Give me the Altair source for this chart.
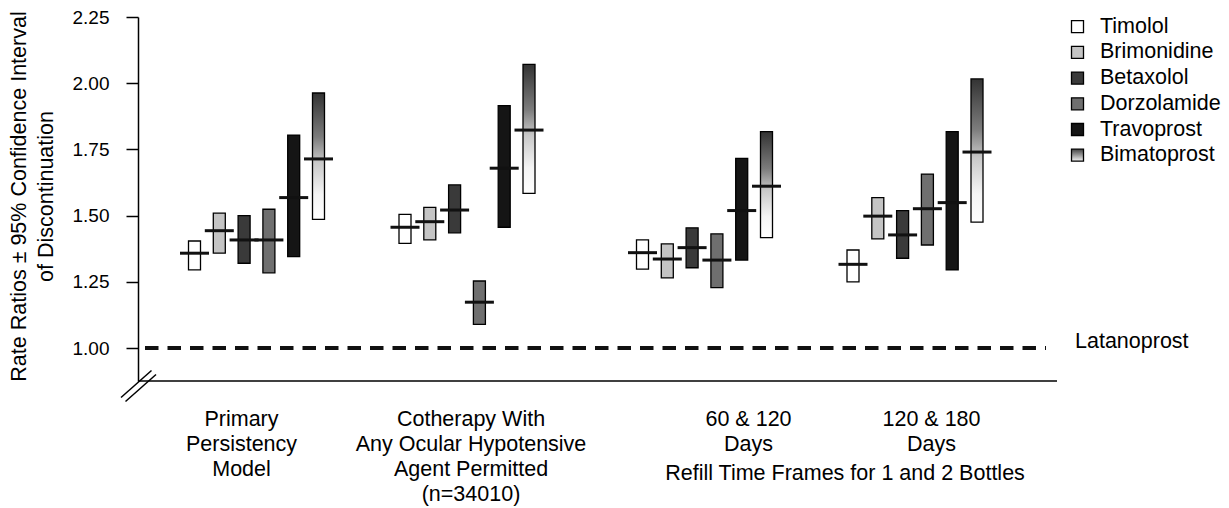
import altair as alt
import pandas as pd

# ---------------- data ----------------
drugs = ["Timolol", "Brimonidine", "Betaxolol", "Dorzolamide", "Travoprost", "Bimatoprost"]
groups = [
    "Primary\nPersistency\nModel",
    "Cotherapy With\nAny Ocular Hypotensive\nAgent Permitted\n(n=34010)",
    "60 & 120\nDays",
    "120 & 180\nDays",
]
refill_label = "Refill Time Frames for 1 and 2 Bottles"
ref_label = "Latanoprost"
ref_value = 1.0

# rate ratio (point estimate) per group, in drug order
rr_primary = [1.358, 1.443, 1.408, 1.408, 1.568, 1.714]
rr_cotherapy = [1.456, 1.477, 1.521, 1.173, 1.679, 1.823]
rr_60_120 = [1.360, 1.336, 1.379, 1.332, 1.519, 1.611]
rr_120_180 = [1.316, 1.498, 1.427, 1.526, 1.549, 1.740]

# lower 95% CI
lo_primary = [1.295, 1.358, 1.320, 1.284, 1.345, 1.486]
lo_cotherapy = [1.395, 1.408, 1.435, 1.089, 1.456, 1.584]
lo_60_120 = [1.298, 1.265, 1.303, 1.228, 1.332, 1.417]
lo_120_180 = [1.250, 1.412, 1.339, 1.389, 1.295, 1.475]

# upper 95% CI
hi_primary = [1.404, 1.509, 1.500, 1.524, 1.804, 1.963]
hi_cotherapy = [1.505, 1.531, 1.616, 1.253, 1.915, 2.071]
hi_60_120 = [1.408, 1.393, 1.454, 1.431, 1.716, 1.817]
hi_120_180 = [1.370, 1.568, 1.519, 1.657, 1.817, 2.016]

y_ticks = [1.00, 1.25, 1.50, 1.75, 2.00, 2.25]
y_title = ["Rate Ratios \u00b1 95% Confidence Interval", "of Discontinuation"]
fills = ["#ffffff", "#c4c4c4", "#3a3a3a", "#6f6f6f", "#151515", "#888888"]

# ---------------- layout ----------------
FONT = "Liberation Sans"
W, H = 1091, 364
GROUP_PX = 210.5          # pixels between group centres
FIRST_PX = 118.5          # first group centre from left of plot
SECTION_GAP_PX = 27.0     # extra gap before the refill-time-frame groups
U = 1.0 / GROUP_PX        # one pixel in group units
DRUG_STEP = 24.8 * U
BAR_HALF = 6.0 * U
MED_HALF = 14.5 * U
LABEL_SHIFT = [-15, 4, 44, 16.5]   # px shift of each category label

lows = [lo_primary, lo_cotherapy, lo_60_120, lo_120_180]
mids = [rr_primary, rr_cotherapy, rr_60_120, rr_120_180]
highs = [hi_primary, hi_cotherapy, hi_60_120, hi_120_180]


def group_pos(gi):
    return gi + (SECTION_GAP_PX * U if gi >= 2 else 0.0)


rows = []
for gi in range(len(groups)):
    for k, d in enumerate(drugs):
        pos = group_pos(gi) + (k - 2.5) * DRUG_STEP
        rows.append(dict(group=gi, drug=d, low=lows[gi][k], rr=mids[gi][k], high=highs[gi][k],
                         x0=pos - BAR_HALF, x1=pos + BAR_HALF,
                         m0=pos - MED_HALF, m1=pos + MED_HALF))
df = pd.DataFrame(rows)

lab_df = pd.DataFrame({"label": groups,
                       "lx": [group_pos(gi) + LABEL_SHIFT[gi] * U for gi in range(len(groups))]})

xs = alt.Scale(domain=[-FIRST_PX * U, (W - FIRST_PX) * U], nice=False, zero=False)
ys = alt.Scale(domain=[2.25 - H / 264.8, 2.25], nice=False, zero=False)
fill_scale = alt.Scale(domain=drugs, range=fills)

grad = alt.LinearGradient(
    gradient="linear", x1=0, y1=0, x2=0, y2=1,
    stops=[alt.GradientStop(offset=0, color="#333333"),
           alt.GradientStop(offset=0.35, color="#7c7c7c"),
           alt.GradientStop(offset=0.55, color="#c8c8c8"),
           alt.GradientStop(offset=0.8, color="#f4f4f4"),
           alt.GradientStop(offset=1, color="#ffffff")])
grad_leg = alt.LinearGradient(
    gradient="linear", x1=0, y1=0, x2=0, y2=1,
    stops=[alt.GradientStop(offset=0, color="#444444"),
           alt.GradientStop(offset=0.5, color="#9a9a9a"),
           alt.GradientStop(offset=1, color="#f4f4f4")])

yaxis = alt.Axis(values=y_ticks, format=".2f", grid=False, title=y_title)


def Y(field):
    return alt.Y(field, scale=ys, axis=yaxis)


base = alt.Chart(df)

bars = base.transform_filter(alt.datum.drug != "Bimatoprost").mark_rect(
    stroke="black", strokeWidth=1.3).encode(
    x=alt.X("x0:Q", scale=xs, axis=None), x2="x1:Q",
    y=Y("low:Q"), y2="high:Q",
    fill=alt.Fill("drug:N", scale=fill_scale, legend=None))

gbars = base.transform_filter(alt.datum.drug == "Bimatoprost").mark_rect(
    fill=grad, stroke="black", strokeWidth=1.3).encode(
    x=alt.X("x0:Q", scale=xs, axis=None), x2="x1:Q",
    y=Y("low:Q"), y2="high:Q")

medians = base.mark_rule(strokeWidth=3, color="#111111").encode(
    x=alt.X("m0:Q", scale=xs, axis=None), x2="m1:Q",
    y=Y("rr:Q"))

ref_df = pd.DataFrame({"v": [ref_value], "t": [ref_label]})
ref = alt.Chart(ref_df).mark_rule(strokeDash=[13.5, 9], strokeWidth=4, color="#111111").encode(
    y=Y("v:Q"), x=alt.value(7), x2=alt.value(908))
ref_txt = alt.Chart(ref_df).mark_text(align="left", baseline="alphabetic", fontSize=21.5,
                                      font=FONT, color="black").encode(
    y=Y("v:Q"), x=alt.value(937), text="t:N")

xaxis_line = alt.Chart(ref_df).mark_rule(strokeWidth=1.5, color="black").encode(
    x=alt.value(0), x2=alt.value(919), y=alt.value(H))
brk1 = alt.Chart(ref_df).mark_rule(strokeWidth=1.5, color="black").encode(
    x=alt.value(-17), x2=alt.value(13.5), y=alt.value(380.5), y2=alt.value(353.5))
brk2 = alt.Chart(ref_df).mark_rule(strokeWidth=1.5, color="black").encode(
    x=alt.value(-12.5), x2=alt.value(18), y=alt.value(384.5), y2=alt.value(357.5))

cat_txt = alt.Chart(lab_df).mark_text(align="center", baseline="alphabetic", fontSize=21.5,
                                      lineHeight=25, lineBreak="\n", font=FONT, color="black").encode(
    x=alt.X("lx:Q", scale=xs, axis=None), y=alt.value(409), text="label:N")
refill_txt = alt.Chart(pd.DataFrame({"t": [refill_label]})).mark_text(
    align="center", baseline="alphabetic", fontSize=21.5, font=FONT, color="black").encode(
    x=alt.value(707), y=alt.value(463), text="t:N")

main = alt.layer(bars, gbars, medians, ref, ref_txt, xaxis_line, brk1, brk2, cat_txt, refill_txt)

# ---- legend ----
leg_df = pd.DataFrame({"drug": drugs})
leg_y = alt.Scale(type="point", domain=drugs, range=[9.7, 138.2], padding=0)
leg_sq = alt.Chart(leg_df).transform_filter(alt.datum.drug != "Bimatoprost").mark_square(
    size=144, stroke="black", strokeWidth=1.3, opacity=1).encode(
    x=alt.value(939.5), y=alt.Y("drug:N", scale=leg_y, axis=None),
    fill=alt.Fill("drug:N", scale=fill_scale, legend=None))
leg_gsq = alt.Chart(leg_df).transform_filter(alt.datum.drug == "Bimatoprost").mark_square(
    size=144, fill=grad_leg, stroke="black", strokeWidth=1.3, opacity=1).encode(
    x=alt.value(939.5), y=alt.Y("drug:N", scale=leg_y, axis=None))
leg_txt = alt.Chart(leg_df).mark_text(align="left", baseline="middle", fontSize=21.5,
                                      font=FONT, color="black").encode(
    x=alt.value(962), y=alt.Y("drug:N", scale=leg_y, axis=None), text="drug:N")
legend = alt.layer(leg_sq, leg_gsq, leg_txt)

chart = alt.layer(main, legend).resolve_scale(y="independent").properties(
    width=W, height=H,
    padding={"left": 138, "top": 17, "right": 0, "bottom": 127},
    autosize=alt.AutoSizeParams(type="none"),
    background="white",
).configure(font=FONT).configure_view(
    strokeWidth=0, stroke="transparent"
).configure_axisY(
    labelFontSize=19, labelColor="black", labelFont=FONT, labelPadding=17,
    tickSize=12, tickColor="black", tickWidth=1.5,
    domainColor="black", domainWidth=1.5,
    titleFontSize=21.5, titleFontWeight="normal", titleColor="black", titleFont=FONT,
    titleLineHeight=27, titleX=-108, titleY=179,
)

chart.save("out.html", embed_options={"renderer": "svg", "actions": False})
